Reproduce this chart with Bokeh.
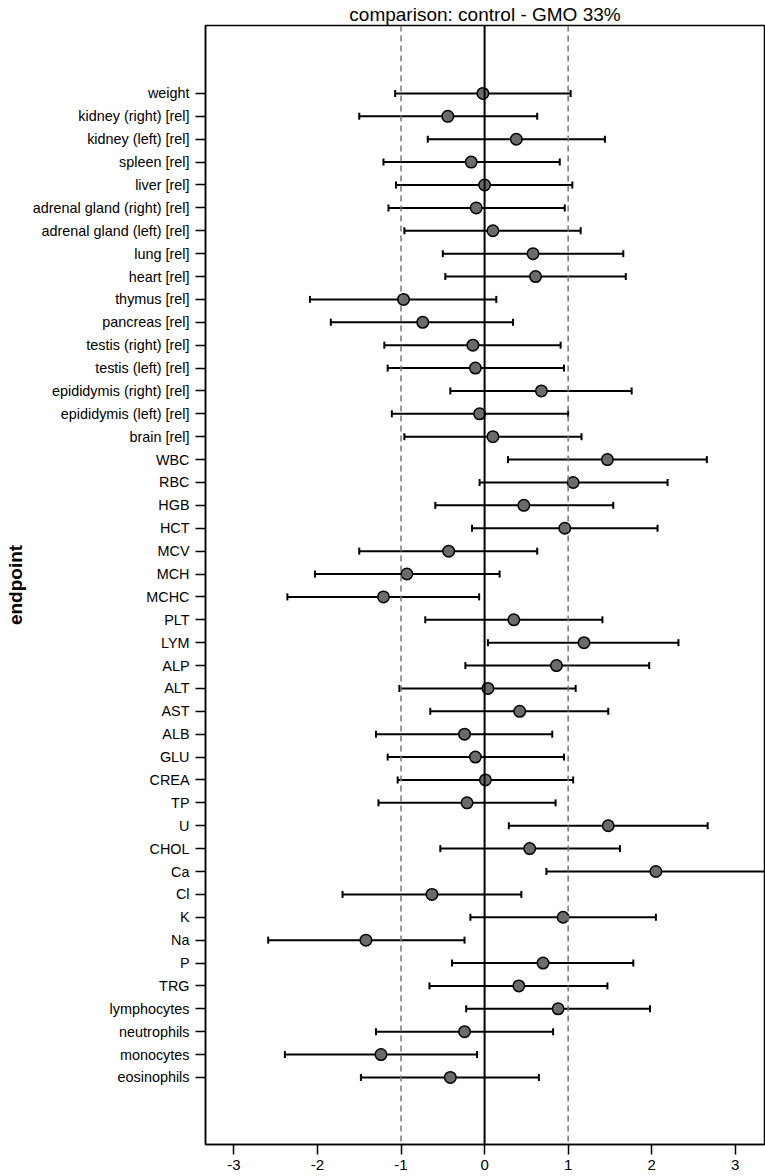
from bokeh.plotting import figure
from bokeh.models import Range1d, FixedTicker, Span, Whisker, TeeHead, ColumnDataSource
from bokeh.embed import file_html
from bokeh.resources import INLINE

endpoints = ["weight", "kidney (right) [rel]", "kidney (left) [rel]", "spleen [rel]", "liver [rel]",
             "adrenal gland (right) [rel]", "adrenal gland (left) [rel]", "lung [rel]", "heart [rel]",
             "thymus [rel]", "pancreas [rel]", "testis (right) [rel]", "testis (left) [rel]",
             "epididymis (right) [rel]", "epididymis (left) [rel]", "brain [rel]",
             "WBC", "RBC", "HGB", "HCT", "MCV", "MCH", "MCHC", "PLT", "LYM",
             "ALP", "ALT", "AST", "ALB", "GLU", "CREA", "TP", "U", "CHOL", "Ca", "Cl", "K", "Na", "P", "TRG",
             "lymphocytes", "neutrophils", "monocytes", "eosinophils"]

estimate = [-0.02, -0.44, 0.38, -0.16, 0.00, -0.10, 0.10, 0.58, 0.61, -0.97, -0.74, -0.14, -0.11, 0.68, -0.06, 0.10,
            1.47, 1.06, 0.47, 0.96, -0.43, -0.93, -1.21, 0.35, 1.19,
            0.86, 0.04, 0.42, -0.24, -0.11, 0.01, -0.21, 1.48, 0.54, 2.05, -0.63, 0.94, -1.42, 0.70, 0.41,
            0.88, -0.24, -1.24, -0.41]

lower = [-1.07, -1.50, -0.68, -1.21, -1.06, -1.15, -0.96, -0.50, -0.47, -2.09, -1.84, -1.20, -1.16, -0.41, -1.11, -0.96,
         0.28, -0.06, -0.59, -0.15, -1.50, -2.03, -2.36, -0.71, 0.04,
         -0.23, -1.02, -0.65, -1.30, -1.16, -1.04, -1.27, 0.29, -0.53, 0.74, -1.70, -0.17, -2.59, -0.39, -0.66,
         -0.22, -1.30, -2.39, -1.48]

upper = [1.03, 0.63, 1.44, 0.90, 1.05, 0.96, 1.15, 1.66, 1.69, 0.14, 0.34, 0.91, 0.95, 1.76, 1.00, 1.16,
         2.66, 2.19, 1.54, 2.07, 0.63, 0.18, -0.065, 1.41, 2.32,
         1.97, 1.09, 1.48, 0.81, 0.95, 1.06, 0.85, 2.67, 1.62, 3.40, 0.44, 2.05, -0.24, 1.78, 1.47,
         1.98, 0.82, -0.09, 0.65]

x_ticks = [-3, -2, -1, 0, 1, 2, 3]
x_tick_labels = ["-3", "-2", "-1", "0", "1", "2", "3"]
ref_lines = [-1, 1]

n = len(endpoints)
ypos = [n - i for i in range(n)]

src = ColumnDataSource(dict(y=ypos, est=estimate, lo=lower, hi=upper))

FONT = "Liberation Sans"

p = figure(width=765, height=1176, output_backend="svg", toolbar_location=None,
           x_range=Range1d(-3.34, 3.35), y_range=Range1d(1 - 2.93, n + 2.97),
           min_border_left=205, min_border_right=1, min_border_top=25, min_border_bottom=32,
           title="comparison: control - GMO 33%")

p.title.text_font = FONT
p.title.text_font_size = "19px"
p.title.text_font_style = "normal"
p.title.align = "center"
p.title.offset = 11
p.title.standoff = 1
p.title.text_color = "black"

p.xgrid.grid_line_color = None
p.ygrid.grid_line_color = None
p.outline_line_color = "black"
p.outline_line_width = 1.5
p.outline_line_alpha = 1.0

for ax in (p.xaxis[0], p.yaxis[0]):
    ax.axis_line_color = "black"
    ax.axis_line_width = 1.5
    ax.major_tick_line_color = "black"
    ax.major_tick_line_width = 1.5
    ax.major_tick_in = 0
    ax.major_tick_out = 10
    ax.minor_tick_line_color = None
    ax.major_label_text_font = FONT
    ax.major_label_text_color = "black"

p.xaxis.ticker = FixedTicker(ticks=x_ticks)
p.xaxis.major_label_overrides = {t: s for t, s in zip(x_ticks, x_tick_labels)}
p.xaxis.major_label_standoff = 5
p.xaxis.major_label_text_font_size = "15px"

p.yaxis.ticker = FixedTicker(ticks=ypos)
p.yaxis.major_label_overrides = {y: name for y, name in zip(ypos, endpoints)}
p.yaxis.major_label_standoff = 6
p.yaxis.major_label_text_font_size = "14.4px"
p.yaxis.axis_label = "endpoint"
p.yaxis.axis_label_text_font = FONT
p.yaxis.axis_label_text_font_style = "bold"
p.yaxis.axis_label_text_font_size = "19px"
p.yaxis.axis_label_text_color = "black"
p.yaxis.axis_label_standoff = 4

for v in ref_lines:
    p.add_layout(Span(location=v, dimension="height", line_color="#777777", line_width=1.5, line_dash="6 4"))
p.add_layout(Span(location=0, dimension="height", line_color="black", line_width=2))

w = Whisker(source=src, base="y", lower="lo", upper="hi", dimension="width",
            line_color="black", line_width=2,
            lower_head=TeeHead(size=7, line_color="black", line_width=2),
            upper_head=TeeHead(size=7, line_color="black", line_width=2))
p.add_layout(w)

p.scatter(x="est", y="y", source=src, size=11.5, fill_color="#6b6b6b", line_color="black", line_width=1.5)

open("out.html", "w").write(file_html(p, INLINE))
